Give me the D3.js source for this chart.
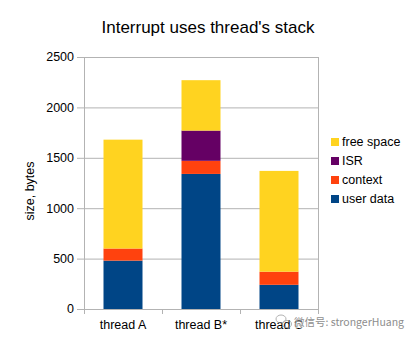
<!DOCTYPE html>
<html><head><meta charset="utf-8">
<script src="https://cdn.jsdelivr.net/npm/d3@7"></script>
<style>body{margin:0;background:#fff;} svg{display:block;}</style>
</head><body>
<script>
const categories = ["thread A", "thread B*", "thread C"];
const userData  = [480, 1340, 240];
const context   = [120, 130, 130];
const isr       = [0, 300, 0];
const freeSpace = [1080, 500, 1000];
const yTicks = [0, 500, 1000, 1500, 2000, 2500];
const seriesNames = ["user data", "context", "ISR", "free space"];
const seriesColors = ["#004586", "#ff420e", "#650064", "#ffd320"];

const W = 416, H = 340;
const svg = d3.select("body").append("svg").attr("width", W).attr("height", H)
  .style("font-family", "'Liberation Sans', Arial, sans-serif");
svg.append("rect").attr("width", W).attr("height", H).attr("fill", "#fff");

const pLeft = 84, pRight = 318, pTop = 57, pBottom = 309;
const x = d3.scaleBand().domain(categories).range([pLeft, pRight]).paddingInner(0.5).paddingOuter(0.25);
const xb = d3.scaleBand().domain(categories).range([pLeft, pRight]);
const y = d3.scaleLinear().domain([0, 2500]).range([pBottom, pTop]);

// gridlines
svg.append("g").selectAll("line").data(yTicks).join("line")
  .attr("x1", pLeft - 7).attr("x2", pRight)
  .attr("y1", d => y(d) + 0.5).attr("y2", d => y(d) + 0.5)
  .attr("stroke", "#b3b3b3").attr("stroke-width", 1);
// axis lines
svg.append("line").attr("x1", pLeft + 0.5).attr("x2", pLeft + 0.5).attr("y1", pTop).attr("y2", pBottom + 5)
  .attr("stroke", "#b3b3b3");
svg.append("line").attr("x1", pRight + 0.5).attr("x2", pRight + 0.5).attr("y1", pTop).attr("y2", pBottom + 5)
  .attr("stroke", "#b3b3b3");
// category ticks
svg.append("g").selectAll("line").data(categories.slice(1)).join("line")
  .attr("x1", d => Math.round(xb(d)) + 0.5).attr("x2", d => Math.round(xb(d)) + 0.5)
  .attr("y1", pBottom).attr("y2", pBottom + 5).attr("stroke", "#b3b3b3");

// y tick labels
svg.append("g").selectAll("text").data(yTicks).join("text")
  .attr("x", pLeft - 10).attr("y", d => y(d)).attr("dy", "0.35em")
  .attr("text-anchor", "end").attr("font-size", 12.5).attr("fill", "#000")
  .text(d => d);

// stacked bars
const rows = categories.map((c, i) => ({cat: c, "user data": userData[i], "context": context[i], "ISR": isr[i], "free space": freeSpace[i]}));
const stack = d3.stack().keys(seriesNames)(rows);
svg.append("g").selectAll("g").data(stack).join("g")
  .attr("fill", (d, i) => seriesColors[i])
  .selectAll("rect").data(d => d).join("rect")
  .attr("x", d => x(d.data.cat)).attr("width", x.bandwidth())
  .attr("y", d => y(d[1])).attr("height", d => y(d[0]) - y(d[1]));

// x labels
svg.append("g").selectAll("text").data(categories).join("text")
  .attr("x", d => xb(d) + xb.bandwidth() / 2).attr("y", 329)
  .attr("text-anchor", "middle").attr("font-size", 12.5).attr("fill", "#000")
  .text(d => d);

// title
svg.append("text").attr("x", 208).attr("y", 33).attr("text-anchor", "middle")
  .attr("font-size", 17).attr("fill", "#000").text("Interrupt uses thread's stack");

// y axis title
svg.append("text").attr("transform", "translate(34,191) rotate(-90)")
  .attr("text-anchor", "middle").attr("font-size", 12.5).attr("fill", "#000").text("size, bytes");

// legend (top-down: reversed)
const legendOrder = [3, 2, 1, 0];
const lg = svg.append("g").selectAll("g").data(legendOrder).join("g")
  .attr("transform", (d, i) => `translate(331,${142 + i * 19})`);
lg.append("rect").attr("x", 0).attr("y", -4).attr("width", 8).attr("height", 8)
  .attr("fill", d => seriesColors[d]);
lg.append("text").attr("x", 11).attr("y", 0).attr("dy", "0.35em")
  .attr("font-size", 12.5).attr("fill", "#000").text(d => seriesNames[d]);

// watermark
const wm = svg.append("g").attr("opacity", 0.75);
wm.append("ellipse").attr("cx", 281).attr("cy", 319).attr("rx", 5).attr("ry", 4).attr("fill", "none").attr("stroke", "#999").attr("stroke-width", 1);
wm.append("ellipse").attr("cx", 287).attr("cy", 324).attr("rx", 4.5).attr("ry", 3.5).attr("fill", "none").attr("stroke", "#999").attr("stroke-width", 1);
wm.append("text").attr("x", 404).attr("y", 326).attr("font-size", 10.5).attr("text-anchor", "end")
  .attr("fill", "#666").attr("stroke", "#fff").attr("stroke-width", 2).attr("paint-order", "stroke")
  .style("font-family", "'Noto Sans CJK SC', 'DejaVu Sans', sans-serif")
  .text("微信号: strongerHuang");
</script>
</body></html>
